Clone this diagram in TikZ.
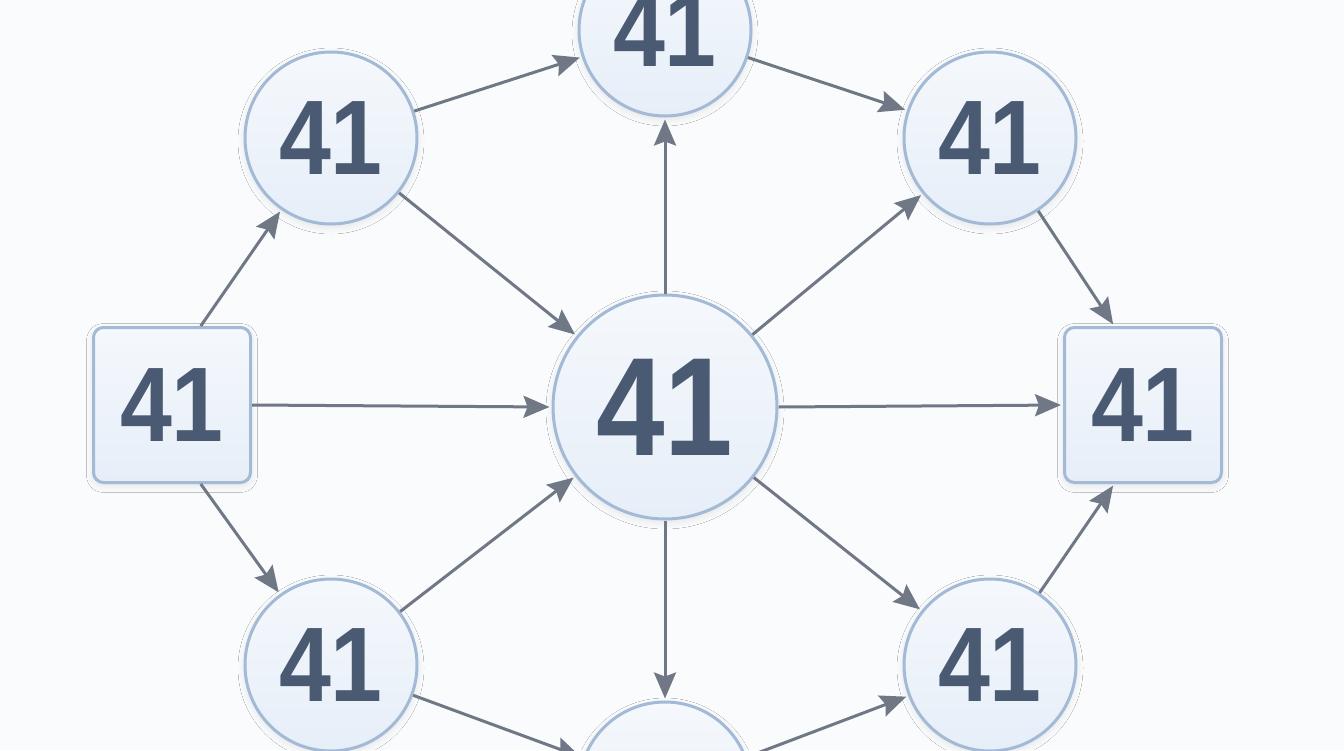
\documentclass[tikz,border=0pt]{standalone}
\usepackage{fontspec}
\setmainfont{Liberation Sans}
\newfontfamily\numfont[FakeStretch=0.88,BoldFont={Liberation Sans Bold}]{Liberation Sans}
\usetikzlibrary{arrows.meta,shadows.blur}
\definecolor{bg}{RGB}{250,251,253}
\definecolor{nodefill}{RGB}{230,238,248}
\definecolor{nodeedge}{RGB}{163,186,214}
\definecolor{txt}{RGB}{74,90,114}
\definecolor{arr}{RGB}{112,120,134}
\begin{document}
\begin{tikzpicture}[x=0.5pt,y=-0.5pt,
  base/.style={draw=nodeedge, line width=1.5pt, top color=white!60!nodefill, bottom color=nodefill,
    text=txt, font=\numfont\bfseries\fontsize{53}{53}\selectfont, inner sep=0pt,
    blur shadow={shadow xshift=0pt, shadow yshift=-1.5pt, shadow opacity=10, shadow blur radius=3.5pt, shadow blur steps=12}},
  small/.style={base, circle, minimum size=86pt},
  big/.style={base, circle, minimum size=112pt, font=\numfont\bfseries\fontsize{70}{70}\selectfont},
  sq/.style={base, rectangle, rounded corners=5pt, minimum width=78.5pt, minimum height=77.5pt},
  link/.style={draw=arr, line width=1.5pt, -{Stealth[length=13pt,width=11pt,inset=2pt]}, shorten >=1pt}]
\useasboundingbox (0,0) rectangle (1344,750);
\clip (0,0) rectangle (1344,750);
\fill[bg] (0,0) rectangle (1344,750);

\node[big]   (c)  at (665,407) {41};
\node[small] (t)  at (665,30)  {41};
\node[small] (b)  at (665,788) {41};
\node[small] (tl) at (331,138) {41};
\node[small] (tr) at (990,138) {41};
\node[small] (bl) at (331,665) {41};
\node[small] (br) at (990,665) {41};
\node[sq]    (l)  at (172,405) {41};
\node[sq]    (r)  at (1143,405) {41};

\draw[link] (l.70) -- (tl);
\draw[link] (l.-70) -- (bl);
\draw[link] (l.east) -- (c.west);
\draw[link] (tl) -- (t);
\draw[link] (tl) -- (c);
\draw[link] (bl) -- (c);
\draw[link] (bl) -- (b);
\draw[link] (t) -- (tr);
\draw[link] (b) -- (br);
\draw[link] (c) -- (t);
\draw[link] (c) -- (b);
\draw[link] (c) -- (tr);
\draw[link] (c) -- (br);
\draw[link] (c.east) -- (r.west);
\draw[link] (tr) -- (r.110);
\draw[link] (br) -- (r.-110);
\end{tikzpicture}
\end{document}
